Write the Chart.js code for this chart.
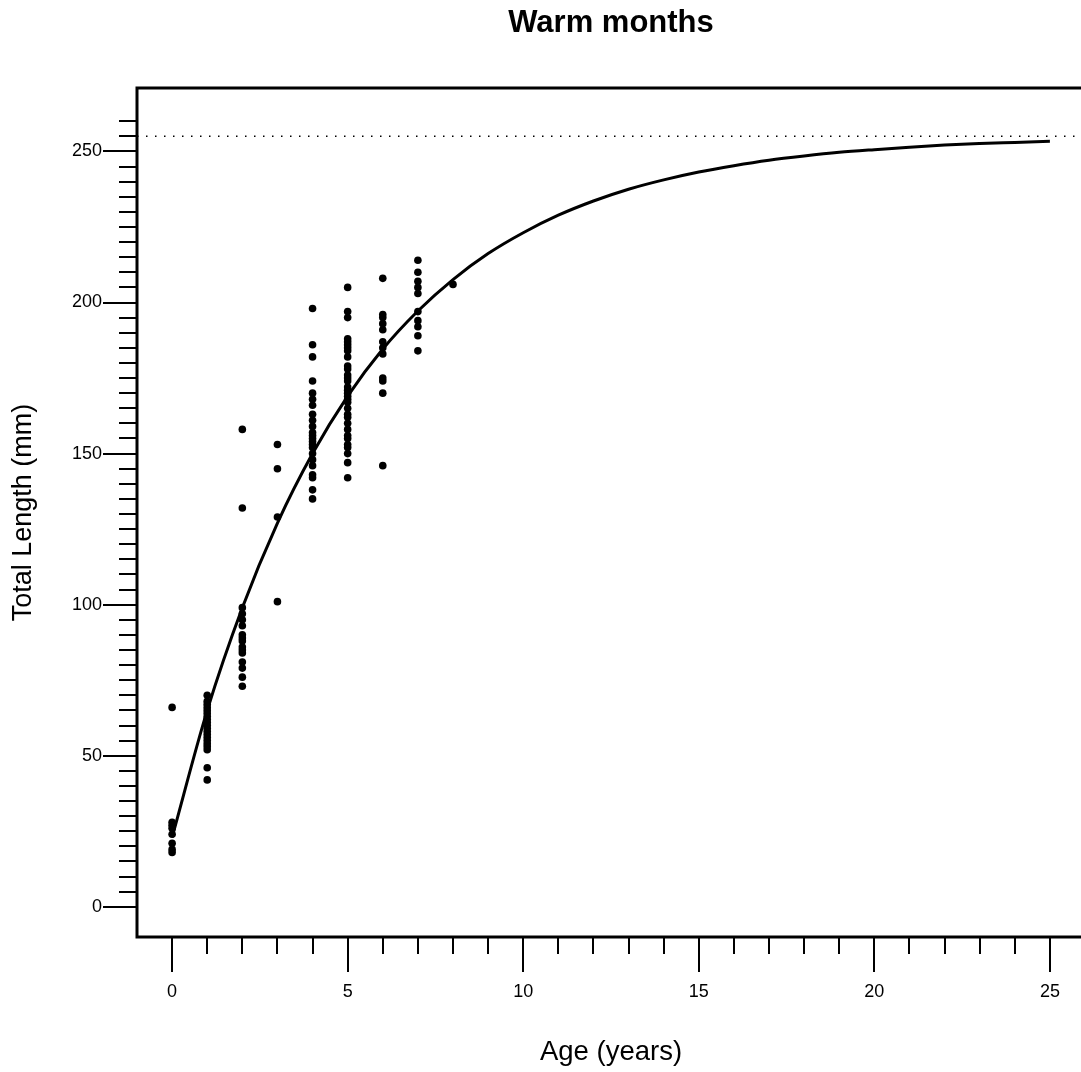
<!DOCTYPE html>
<html>
<head>
<meta charset="utf-8">
<script src="https://cdn.jsdelivr.net/npm/chart.js@4.4.1/dist/chart.umd.min.js"></script>
<style>
  html, body { margin: 0; padding: 0; background: #fff; overflow: hidden; }
  #wrap { width: 1081px; height: 1072px; overflow: hidden; position: relative; }
  #c { position: absolute; left: 0; top: 0; }
</style>
</head>
<body>
<div id="wrap"><canvas id="c" width="1090" height="1072"></canvas></div>
<script>
// ---- Data ----
const chartTitle = "Warm months";
const xAxisTitle = "Age (years)";
const yAxisTitle = "Total Length (mm)";

const xTickLabels = [0, 5, 10, 15, 20, 25];
const yTickLabels = [0, 50, 100, 150, 200, 250];

// observed total lengths (mm) by age (years)
const obsAges = [0, 1, 2, 3, 4, 5, 6, 7, 8];
const len0 = [66, 28, 27, 26, 24, 21, 19, 18];
const len1 = [70, 68, 67, 66, 65, 64, 63, 62, 61, 60, 59, 58, 57, 56, 55, 54, 53, 52, 46, 42];
const len2 = [158, 132, 99, 97, 95, 93, 90, 89, 88, 86, 85, 84, 81, 79, 76, 73];
const len3 = [153, 145, 129, 101];
const len4 = [198, 186, 182, 174, 170, 168, 166, 163, 161, 159, 157, 156, 155, 154, 153, 152, 150, 148, 146, 143, 142, 138, 135];
const len5 = [205, 197, 195, 188, 187, 186, 185, 184, 182, 179, 178, 176, 175, 174, 172, 171, 170, 169, 168, 167, 165, 163, 162, 160, 158, 156, 155, 153, 152, 150, 147, 142];
const len6 = [208, 196, 195, 193, 191, 187, 185, 183, 175, 174, 170, 146];
const len7 = [214, 210, 207, 205, 203, 197, 194, 192, 189, 184];
const len8 = [206];
const lengthsByAge = [len0, len1, len2, len3, len4, len5, len6, len7, len8];

// fitted growth curve
const curveAges =    [0, 1, 2, 3, 4, 5, 6, 7, 8, 9, 10, 11, 12, 13, 14, 15, 16, 17, 18, 19, 20, 21, 22, 23, 24, 25];
const curveLengths = [23, 65, 99, 127, 150, 169, 184.6, 197.2, 207.6, 216.2, 223.1, 228.9, 233.6, 237.5, 240.6, 243.2, 245.3, 247.1, 248.5, 249.7, 250.6, 251.4, 252.1, 252.6, 253.0, 253.4];

// asymptotic length (dotted line)
const asymptoteLength = 255;
const asymptoteAges = [-1, 26];

// ---- build datasets ----
const obsPoints = [];
obsAges.forEach((a, i) => lengthsByAge[i].forEach(v => obsPoints.push({ x: a, y: v })));
const curvePoints = curveAges.map((a, i) => ({ x: a, y: curveLengths[i] }));
const asymPoints = asymptoteAges.map(a => ({ x: a, y: asymptoteLength }));

const FONT = "'Liberation Sans', Helvetica, Arial, sans-serif";

const frameAndTicks = {
  id: 'frameAndTicks',
  afterDraw(chart) {
    const { ctx, chartArea: ca, scales: { x, y } } = chart;
    ctx.save();
    ctx.strokeStyle = '#000';
    ctx.lineWidth = 2;
    ctx.lineCap = 'butt';
    for (let v = 0; v <= 26; v++) {
      const px = Math.round(x.getPixelForValue(v));
      const len = (v % 5 === 0) ? 35 : 17;
      ctx.beginPath();
      ctx.moveTo(px, ca.bottom);
      ctx.lineTo(px, ca.bottom + len);
      ctx.stroke();
    }
    for (let v = 0; v <= 260; v += 5) {
      const py = Math.round(y.getPixelForValue(v));
      const len = (v % 50 === 0) ? 34 : 18;
      ctx.beginPath();
      ctx.moveTo(ca.left, py);
      ctx.lineTo(ca.left - len, py);
      ctx.stroke();
    }
    ctx.lineWidth = 3;
    ctx.strokeRect(ca.left, ca.top, ca.right - ca.left, ca.bottom - ca.top);
    ctx.restore();
  }
};

new Chart(document.getElementById('c'), {
  type: 'scatter',
  data: {
    datasets: [
      {
        label: 'asymptote',
        type: 'line',
        data: asymPoints,
        borderColor: '#000',
        borderWidth: 1.5,
        borderDash: [1.5, 7.5],
        pointRadius: 0,
        fill: false,
        order: 3
      },
      {
        label: 'observed',
        data: obsPoints,
        backgroundColor: '#000',
        borderWidth: 0,
        pointRadius: 3.8,
        order: 2
      },
      {
        label: 'fit',
        type: 'line',
        data: curvePoints,
        borderColor: '#000',
        borderWidth: 3,
        pointRadius: 0,
        cubicInterpolationMode: 'monotone',
        fill: false,
        order: 1
      }
    ]
  },
  options: {
    responsive: false,
    animation: false,
    events: [],
    layout: { padding: { left: 0, right: 5, top: 0, bottom: 0 } },
    plugins: {
      legend: { display: false },
      tooltip: { enabled: false },
      title: {
        display: true,
        text: chartTitle,
        fullSize: false,
        color: '#000',
        font: { family: FONT, size: 31, weight: 'bold', lineHeight: 1.2 },
        padding: { top: 5, bottom: 45.8 }
      }
    },
    scales: {
      x: {
        type: 'linear',
        min: -1,
        max: 26,
        grid: { display: false, drawTicks: false },
        border: { display: false },
        afterBuildTicks: s => { s.ticks = xTickLabels.map(v => ({ value: v })); },
        afterFit: s => { s.height = 135; s.paddingLeft = 0; s.paddingRight = 0; },
        ticks: {
          color: '#000',
          font: { family: FONT, size: 18 },
          padding: 44,
          maxRotation: 0,
          autoSkip: false
        },
        title: {
          display: true,
          text: xAxisTitle,
          color: '#000',
          font: { family: FONT, size: 27.5 },
          padding: { top: 0, bottom: 3 }
        }
      },
      y: {
        type: 'linear',
        min: -10,
        max: 271,
        grid: { display: false, drawTicks: false },
        border: { display: false },
        afterBuildTicks: s => { s.ticks = yTickLabels.map(v => ({ value: v })); },
        afterFit: s => { s.width = 137; s.paddingTop = 0; s.paddingBottom = 0; },
        ticks: {
          color: '#000',
          font: { family: FONT, size: 18 },
          padding: 35,
          autoSkip: false
        },
        title: {
          display: true,
          text: yAxisTitle,
          color: '#000',
          font: { family: FONT, size: 27 },
          padding: { top: 7, bottom: 0 }
        }
      }
    }
  },
  plugins: [frameAndTicks]
});
</script>
</body>
</html>
